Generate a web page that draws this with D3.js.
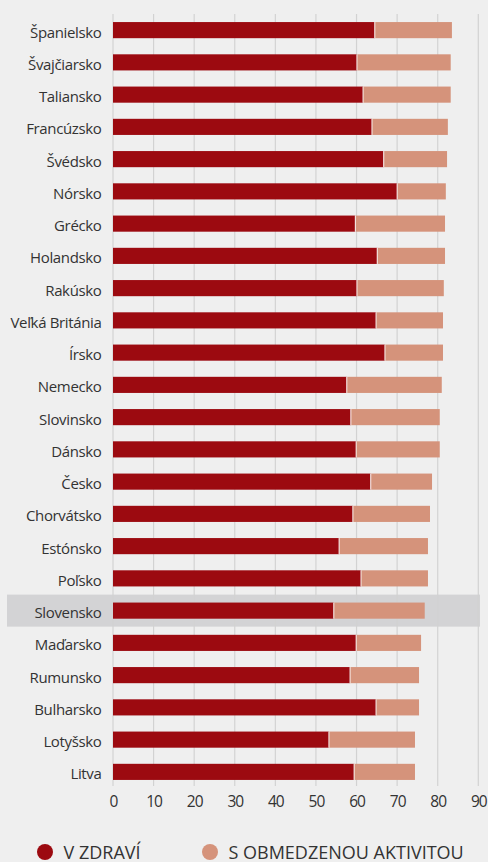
<!DOCTYPE html>
<html>
<head>
<meta charset="utf-8">
<script src="https://cdn.jsdelivr.net/npm/d3@7/dist/d3.min.js"></script>
<style>
  html, body { margin: 0; padding: 0; background: #efefef; }
  svg { display: block; font-family: "Open Sans", "Noto Sans", sans-serif; }
</style>
</head>
<body>
<svg id="chart" width="488" height="862"></svg>
<script>
// Countries, top to bottom
const countries = [
  "Španielsko", "Švajčiarsko", "Taliansko", "Francúzsko", "Švédsko", "Nórsko",
  "Grécko", "Holandsko", "Rakúsko", "Veľká Británia", "Írsko", "Nemecko",
  "Slovinsko", "Dánsko", "Česko", "Chorvátsko", "Estónsko", "Poľsko",
  "Slovensko", "Maďarsko", "Rumunsko", "Bulharsko", "Lotyšsko", "Litva"
];
// Years in good health
const healthy = [
  64.5, 60.1, 61.6, 63.8, 66.7, 70.0,
  59.7, 65.1, 60.1, 64.8, 67.0, 57.6,
  58.6, 59.9, 63.5, 59.1, 55.7, 61.1,
  54.4, 59.9, 58.4, 64.8, 53.2, 59.4
];
// Years with limited activity
const limited = [
  19.0, 23.1, 21.6, 18.7, 15.6, 12.0,
  22.1, 16.7, 21.4, 16.5, 14.3, 23.4,
  21.9, 20.6, 15.1, 19.0, 21.9, 16.5,
  22.4, 16.0, 17.0, 10.6, 21.2, 15.0
];
const xTicks = [0, 10, 20, 30, 40, 50, 60, 70, 80, 90];
const seriesNames = ["V ZDRAVÍ", "S OBMEDZENOU AKTIVITOU"];
const seriesColors = ["#9c0a10", "#d5937b"];
const highlighted = "Slovensko";

const svg = d3.select("#chart");
const x = d3.scaleLinear().domain([0, 90]).range([113, 478.3]);
const y = d3.scaleBand().domain(countries).range([14, 788]).paddingInner(0.5).paddingOuter(0.25);

// Highlight band behind the selected country
svg.append("rect")
  .attr("x", 7).attr("width", 473)
  .attr("y", y(highlighted) + y.bandwidth() / 2 - 16)
  .attr("height", 32)
  .attr("fill", "#d3d3d5");

// Vertical grid lines
svg.append("g").selectAll("line").data(xTicks).join("line")
  .attr("x1", d => x(d)).attr("x2", d => x(d))
  .attr("y1", 14).attr("y2", 786)
  .attr("stroke", "#d2d2d2").attr("stroke-width", 1.2);

// Stacked bars
const rows = countries.map((c, i) => ({ c, h: healthy[i], l: limited[i] }));
const bars = svg.append("g");
bars.selectAll("rect.h").data(rows).join("rect")
  .attr("class", "h")
  .attr("x", x(0)).attr("y", d => y(d.c))
  .attr("width", d => x(d.h) - x(0))
  .attr("height", y.bandwidth())
  .attr("fill", seriesColors[0]);
bars.selectAll("rect.l").data(rows).join("rect")
  .attr("class", "l")
  .attr("x", d => x(d.h)).attr("y", d => y(d.c))
  .attr("width", d => x(d.h + d.l) - x(d.h))
  .attr("height", y.bandwidth())
  .attr("fill", seriesColors[1]);
// Thin white separator between segments
bars.selectAll("line").data(rows).join("line")
  .attr("x1", d => x(d.h)).attr("x2", d => x(d.h))
  .attr("y1", d => y(d.c)).attr("y2", d => y(d.c) + y.bandwidth())
  .attr("stroke", "#ffffff").attr("stroke-width", 0.9);

// Category labels
const yAxis = svg.append("g")
  .attr("transform", "translate(101.5,0)")
  .call(d3.axisLeft(y).tickSize(0).tickPadding(0));
yAxis.select(".domain").remove();
yAxis.selectAll("text")
  .attr("fill", "#333").attr("font-size", 15)
  .attr("letter-spacing", "-0.35px")
  .attr("dy", "0.5em")
  .attr("font-family", "Open Sans, sans-serif");

// X axis labels
const xAxis = svg.append("g")
  .attr("transform", "translate(0,786)")
  .call(d3.axisBottom(x).tickValues(xTicks).tickSize(0).tickPadding(10));
xAxis.select(".domain").remove();
xAxis.selectAll("text")
  .attr("fill", "#333").attr("font-size", 15.5)
  .attr("letter-spacing", "-1px")
  .attr("font-family", "Open Sans, sans-serif");

// Legend
const legendX = [45, 210];
const legend = svg.append("g").selectAll("g").data(seriesNames).join("g")
  .attr("transform", (d, i) => `translate(${legendX[i]},852)`);
legend.append("circle").attr("r", 8).attr("fill", (d, i) => seriesColors[i]);
legend.append("text")
  .attr("x", 18.5).attr("y", 6.5)
  .attr("fill", "#333").attr("font-size", 18)
  .text(d => d);
</script>
</body>
</html>
